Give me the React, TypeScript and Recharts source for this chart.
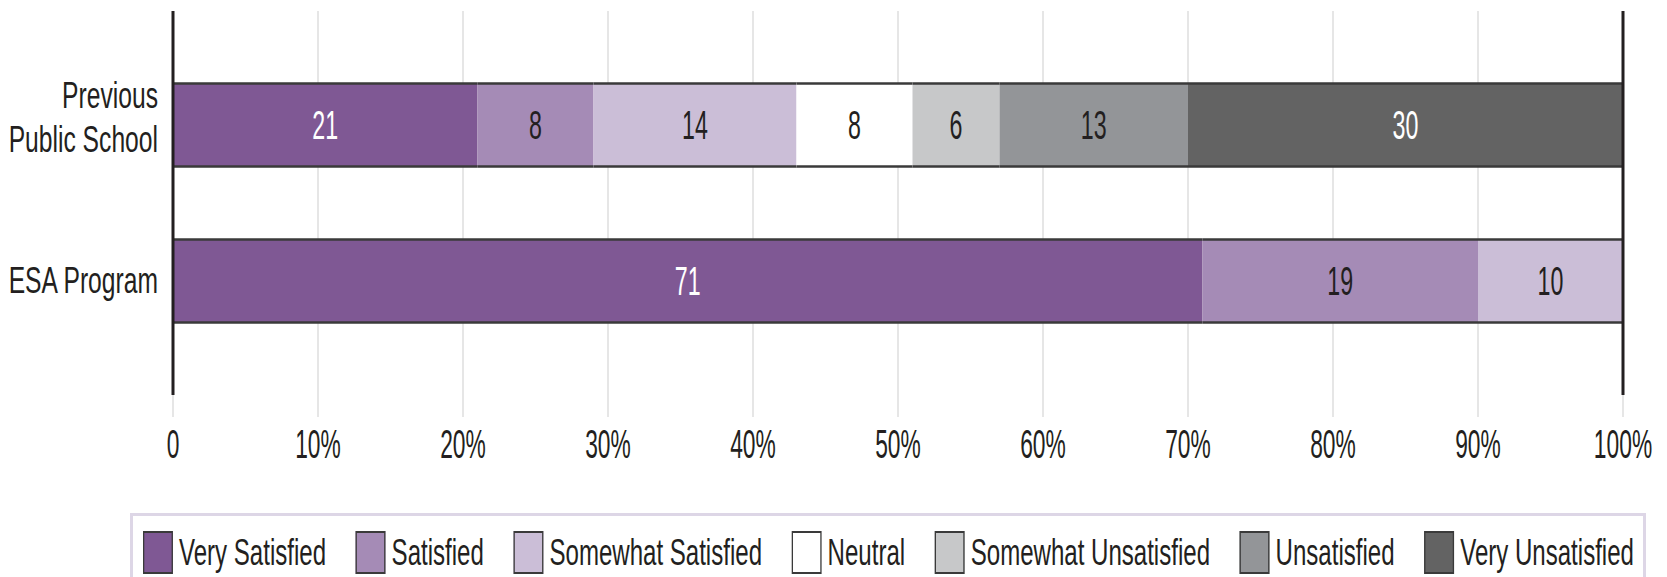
import React from "react";
import {
  BarChart,
  Bar,
  XAxis,
  YAxis,
  CartesianGrid,
  ReferenceLine,
  LabelList,
} from "recharts";

const categories = ["Previous\nPublic School", "ESA Program"];
const seriesNames = [
  "Very Satisfied",
  "Satisfied",
  "Somewhat Satisfied",
  "Neutral",
  "Somewhat Unsatisfied",
  "Unsatisfied",
  "Very Unsatisfied",
];
const previousValues = [21, 8, 14, 8, 6, 13, 30];
const esaValues = [71, 19, 10, 0, 0, 0, 0];
const xTicks = [0, 10, 20, 30, 40, 50, 60, 70, 80, 90, 100];

const seriesColors = ["#7f5894", "#a58bb6", "#cbbed7", "#ffffff", "#c7c8c9", "#939598", "#636363"];
const labelColors = ["#ffffff", "#231f20", "#231f20", "#231f20", "#231f20", "#231f20", "#ffffff"];

// the original uses a condensed face; squeeze Liberation Sans to get close
const FONT = '"Liberation Sans", Arial, sans-serif';
const INK = "#231f20";

const rows = [previousValues, esaValues];
const data = categories.map((name, i) => {
  const row: Record<string, any> = { name };
  seriesNames.forEach((_, j) => {
    row["s" + j] = rows[i][j];
  });
  return row;
});

const BarShape = (props: any) => {
  const { x, y, width, height, fill } = props;
  if (!width || width <= 0) return null;
  return (
    <g>
      <rect x={x} y={y} width={width} height={height} fill={fill} />
      <line x1={x} x2={x + width} y1={y} y2={y} stroke="#3a3a3a" strokeWidth={2.5} />
      <line x1={x} x2={x + width} y1={y + height} y2={y + height} stroke="#3a3a3a" strokeWidth={2.5} />
    </g>
  );
};

const XTick = (props: any) => {
  const { x, y, payload } = props;
  const v = payload.value;
  return (
    <text
      transform={`translate(${x},${y + 39}) scale(0.57,1)`}
      textAnchor="middle"
      fontFamily={FONT}
      fontSize={40}
      fill={INK}
    >
      {v === 0 ? "0" : v + "%"}
    </text>
  );
};

const YTick = (props: any) => {
  const { x, y, payload } = props;
  const lines = String(payload.value).split("\n");
  const start = lines.length === 1 ? y + 12 : y - 16.5;
  return (
    <g>
      {lines.map((ln, i) => (
        <text
          key={i}
          transform={`translate(${x},${start + i * 44}) scale(0.685,1)`}
          textAnchor="end"
          fontFamily={FONT}
          fontSize={36}
          fill={INK}
        >
          {ln}
        </text>
      ))}
    </g>
  );
};

const makeLabel = (color: string) => (props: any) => {
  const { x, y, width, height, value } = props;
  if (!value) return null;
  return (
    <text
      transform={`translate(${x + width / 2},${y + height / 2 + 14}) scale(0.58,1)`}
      textAnchor="middle"
      fontFamily={FONT}
      fontSize={40}
      fill={color}
    >
      {value}
    </text>
  );
};

const LEGEND_SCALE = 0.65;

const ChartLegend = () => (
  <div
    style={{
      position: "absolute",
      left: 130,
      top: 513,
      width: 1516,
      height: 90,
      border: "3px solid #ddd6e6",
      boxSizing: "border-box",
      background: "#fff",
    }}
  >
    <div
      style={{
        position: "absolute",
        left: 10,
        top: 15,
        width: 1491 / LEGEND_SCALE,
        transform: `scaleX(${LEGEND_SCALE})`,
        transformOrigin: "left top",
        display: "flex",
        justifyContent: "space-between",
        alignItems: "center",
      }}
    >
      {seriesNames.map((name, i) => (
        <div key={name} style={{ display: "flex", alignItems: "center" }}>
          <div
            style={{
              width: 30 / LEGEND_SCALE,
              height: 43,
              background: seriesColors[i],
              border: "2px solid #3a3a3a",
              boxSizing: "border-box",
              marginRight: 6 / LEGEND_SCALE,
            }}
          />
          <span
            style={{
              fontFamily: FONT,
              fontSize: 37,
              lineHeight: "43px",
              color: INK,
              whiteSpace: "nowrap",
            }}
          >
            {name}
          </span>
        </div>
      ))}
    </div>
  </div>
);

export default function App() {
  return (
    <div style={{ position: "absolute", left: 0, top: 0, width: 1667, height: 577, background: "#fff", overflow: "hidden" }}>
      <BarChart
        width={1667}
        height={500}
        data={data}
        layout="vertical"
        barSize={83}
        margin={{ top: 11, right: 44, left: 0, bottom: 45 }}
      >
        <CartesianGrid horizontal={false} stroke="#dedede" strokeWidth={1.5} />
        <XAxis
          type="number"
          domain={[0, 100]}
          ticks={xTicks}
          interval={0}
          height={60}
          axisLine={false}
          tickLine={{ stroke: "#dedede", strokeWidth: 1.5 }}
          tickSize={22}
          tickMargin={2}
          tick={<XTick />}
        />
        <YAxis
          type="category"
          dataKey="name"
          width={173}
          axisLine={false}
          tickLine={false}
          tickSize={0}
          tickMargin={15}
          padding={{ top: 35.5, bottom: 36.5 }}
          tick={<YTick />}
        />
        {seriesNames.map((name, j) => (
          <Bar
            key={name}
            dataKey={"s" + j}
            name={name}
            stackId="a"
            fill={seriesColors[j]}
            shape={<BarShape />}
            isAnimationActive={false}
          >
            <LabelList dataKey={"s" + j} content={makeLabel(labelColors[j])} />
          </Bar>
        ))}
        <ReferenceLine x={0} stroke={INK} strokeWidth={3} />
        <ReferenceLine x={100} stroke={INK} strokeWidth={3} />
      </BarChart>
      <ChartLegend />
    </div>
  );
}
